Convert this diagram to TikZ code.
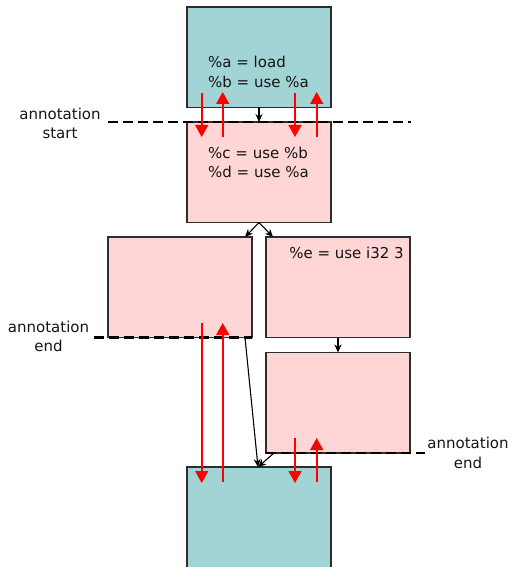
\documentclass[tikz,border=0pt]{standalone}
\usepackage{fontspec}
\setmainfont{DejaVu Sans}
\usetikzlibrary{arrows.meta,calc}
\definecolor{blockteal}{RGB}{163,212,213}
\definecolor{blockpink}{RGB}{255,213,213}
\definecolor{edgegray}{RGB}{45,45,45}
\definecolor{usered}{RGB}{255,0,0}
\begin{document}
\begin{tikzpicture}[x=1pt,y=-1pt,
  block/.style={draw=edgegray,line width=1.2pt,inner sep=0pt,outer sep=0pt,
    minimum width=144pt,minimum height=100.5pt,anchor=north west},
  defblock/.style={block,fill=blockteal},
  liveblock/.style={block,fill=blockpink},
  code/.style={inner sep=0pt,font=\fontsize{15}{19.5}\selectfont,text=black!92},
  flow/.style={draw=black,line width=1.1pt,-{Stealth[length=8pt,width=7pt]}},
  annot/.style={draw=black,line width=2.6pt,dash pattern=on 10pt off 5pt},
  use/.style={draw=usered,line width=1.6pt,-{Triangle[length=12pt,width=13pt]}}]
\useasboundingbox (0,0) rectangle (512,567);

% basic blocks
\node[defblock]  (entry)  at (187,7)     {};
\node[liveblock] (head)   at (187,122)   {};
\node[liveblock] (thenbb) at (108,237)   {};
\node[liveblock] (elsebb) at (266,237)   {};
\node[liveblock] (tailbb) at (266,352.5) {};
\node[defblock,minimum height=130pt] (exit) at (187,467) {};

% instructions
\node[code,align=left,anchor=north west] (entrytxt) at (208,56) {\%a = load\\\%b = use \%a};
\node[code,align=left,anchor=north west] (headtxt) at (208,146.5) {\%c = use \%b\\\%d = use \%a};
\node[code,anchor=north east] (elsetxt) at (404,246.5) {\%e = use i32 3};

% control flow
\draw[flow] (entry.south) -- (head.north);
\draw[flow] (head.south) -- ($(thenbb.north east)+(-7,0)$);
\draw[flow] (head.south) -- ($(elsebb.north west)+(7,0)$);
\draw[flow] (elsebb.south) -- (tailbb.north);
\coordinate (join) at ($(exit.north)+(-1,0)$);
\draw[flow] ($(thenbb.south east)+(-7,0)$) -- (join);
\draw[flow] ($(tailbb.south west)+(8,0)$) -- (join);

% annotation boundaries
\draw[annot] (108,122) -- (411,122);
\node[code,align=center] (startlbl) at (60,123.5) {annotation\\start};
\draw[annot] (94,337.5) -- (thenbb.south east);
\node[code,align=center] (endlbl1) at (48.5,336.5) {annotation\\end};
\draw[annot] (tailbb.south west) -- (425,453);
\node[code,align=center] (endlbl2) at (468,453) {annotation\\end};

% uses crossing the boundaries
\coordinate (a1) at (201.7,93);  \coordinate (a2) at (201.7,137);
\coordinate (b1) at (222.7,137); \coordinate (b2) at (222.7,92);
\coordinate (c1) at (295,93);    \coordinate (c2) at (295,137);
\coordinate (d1) at (316.7,137); \coordinate (d2) at (316.7,92);
\draw[use] (a1) -- (a2);
\draw[use] (b1) -- (b2);
\draw[use] (c1) -- (c2);
\draw[use] (d1) -- (d2);

\coordinate (e1) at (201.7,323); \coordinate (e2) at (201.7,483);
\coordinate (f1) at (222.7,482); \coordinate (f2) at (222.7,323);
\coordinate (g1) at (295,438);   \coordinate (g2) at (295,483);
\coordinate (h1) at (316.7,482); \coordinate (h2) at (316.7,438);
\draw[use] (e1) -- (e2);
\draw[use] (f1) -- (f2);
\draw[use] (g1) -- (g2);
\draw[use] (h1) -- (h2);
\end{tikzpicture}
\end{document}
